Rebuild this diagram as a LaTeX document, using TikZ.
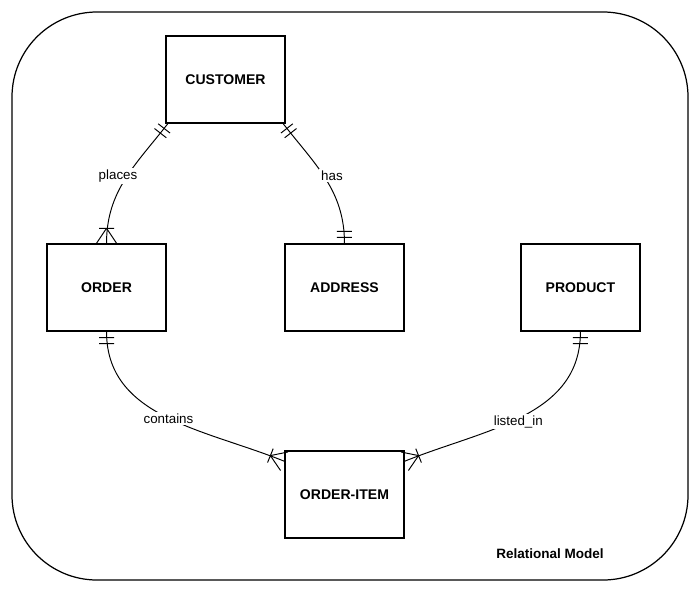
\documentclass[tikz,border=0pt]{standalone}
\usepackage{fontspec}
\setmainfont{Liberation Sans}
\usetikzlibrary{positioning,decorations.markings}

\tikzset{
  entity/.style={draw, line width=0.8pt, minimum width=2.38cm, minimum height=1.74cm,
    font=\fontsize{8}{10}\selectfont\bfseries},
  rel/.style={line width=0.55pt},
  lbl/.style={fill=white, inner sep=1pt, font=\fontsize{7.6}{9}\selectfont},
  one start/.style={postaction={decorate, decoration={markings,
    mark=at position 0 with {\draw[rel] (0.12cm,-0.15cm) -- (0.12cm,0.15cm) (0.24cm,-0.15cm) -- (0.24cm,0.15cm);}}}},
  one end/.style={postaction={decorate, decoration={markings,
    mark=at position 1 with {\draw[rel] (-0.12cm,-0.15cm) -- (-0.12cm,0.15cm) (-0.24cm,-0.15cm) -- (-0.24cm,0.15cm);}}}},
  many end/.style={postaction={decorate, decoration={markings,
    mark=at position 1 with {\draw[rel] (-0.3cm,0) -- (0,0.2cm) (-0.3cm,0) -- (0,-0.2cm) (-0.3cm,-0.15cm) -- (-0.3cm,0.15cm);}}}},
}

\begin{document}
\begin{tikzpicture}[x=0.02cm, y=-0.02cm, on grid]
    \useasboundingbox (0,0) rectangle (700,593);
    \draw[line width=0.7pt, rounded corners=1.7cm] (12,12) rectangle (688,580);

    \node[entity] (customer) at (225.5,79.5) {CUSTOMER};
    \node[entity] (order) [below left=4.16cm and 2.38cm of customer] {ORDER};
    \node[entity] (address) [right=4.76cm of order] {ADDRESS};
    \node[entity] (product) [right=4.72cm of address] {PRODUCT};
    \node[entity] (orderitem) [below=4.14cm of address] {ORDER-ITEM};

    \path[rel]
    ([xshift=0.05cm]customer.south west)
    edge [out=232, in=90, one start, many end] node [lbl, xshift=-0.14cm, yshift=0.06cm] {places} (order.north)
    ([xshift=-0.05cm]customer.south east)
    edge [out=-52, in=90, one start, one end] node [lbl, xshift=0.12cm, yshift=0.08cm] {has} (address.north)
    (order.south)
    edge [out=-90, in=158, one start, many end] node [lbl, xshift=0.06cm, yshift=-0.04cm] {contains} ([yshift=-0.22cm]orderitem.north west)
    (product.south)
    edge [out=-90, in=22, one start, many end] node [lbl, xshift=-0.08cm, yshift=-0.1cm] {listed\_in} ([yshift=-0.22cm]orderitem.north east)
    ;

    \node[font=\fontsize{7.7}{9}\selectfont\bfseries] (caption) at (550,554) {Relational Model};
\end{tikzpicture}
\end{document}
